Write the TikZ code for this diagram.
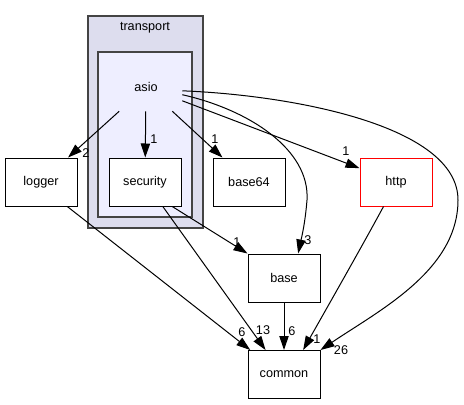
\documentclass[tikz,border=0pt]{standalone}
\usepackage{fontspec}
\setmainfont{Liberation Sans}
\usetikzlibrary{arrows.meta}
\definecolor{outerfill}{HTML}{DDDDEE}
\definecolor{innerfill}{HTML}{EEEEFF}
\definecolor{clusterline}{HTML}{444444}

\begin{document}
\begin{tikzpicture}[x=0.75pt,y=-0.75pt,font=\fontsize{9.5}{11}\selectfont]
	\tikzstyle{dir} = [draw=black, line width=0.75pt, fill=white, minimum width=54pt, minimum height=36pt, inner sep=0pt]
	\tikzstyle{cluster} = [draw=clusterline, line width=1.3pt, inner sep=0pt]
	\tikzstyle{dep} = [draw=black, line width=0.75pt, -{Triangle[length=10.5pt,width=7pt]}]
	\tikzstyle{num} = [inner sep=0pt]
	\useasboundingbox (0,0) rectangle (464,404);
		\node[cluster, fill=outerfill, minimum width=86.25pt, minimum height=159pt] (transport) at (145.5,122) {};
		\node[] (transportlbl) at (145,28) {transport};
		\node[cluster, fill=innerfill, minimum width=70.5pt, minimum height=123.75pt] (asiobox) at (145,134.5) {};
		\node[minimum width=54pt, minimum height=36pt, inner sep=0pt] (asio) at (146,87) {asio};
		\node[dir] (security) at (145,182) {security};
		\node[dir] (logger) at (41,182) {logger};
		\node[dir] (base64) at (249,182) {base64};
		\node[dir, draw=red] (http) at (396,182) {http};
		\node[dir] (base) at (284,278) {base};
		\node[dir] (common) at (284,374.5) {common};
	\draw[dep] (asio) -- (security);
	\draw[dep] (asio) -- (logger);
	\draw[dep] (asio) -- (base64);
	\draw[dep] (asio) -- (http);
	\draw[dep] (asio.-12) .. controls (250,110) and (310,150) .. (307,200) .. controls (305,225) and (301,240) .. (base.60);
	\draw[dep] (asio.-6) .. controls (290,95) and (458,125) .. (458,200) .. controls (458,270) and (380,310) .. (common.north east);
	\draw[dep] (security.-42) -- (base.north west);
	\draw[dep] (security.-54) -- (common.127);
	\draw[dep] (logger.-43) -- (common.144);
	\draw[dep] (base) -- (common);
	\draw[dep] (http.-117) .. controls (360,250) and (320,320) .. (common.52);
		\node[num] (n1) at (154,139) {1};
		\node[num] (n2) at (86,153) {2};
		\node[num] (n3) at (215,139) {1};
		\node[num] (n4) at (346,151) {1};
		\node[num] (n5) at (308,240) {3};
		\node[num] (n6) at (341,350) {26};
		\node[num] (n7) at (237,242) {1};
		\node[num] (n8) at (263,330) {13};
		\node[num] (n9) at (242,332) {6};
		\node[num] (n10) at (292,331) {6};
		\node[num] (n11) at (317,339) {1};
	\end{tikzpicture}
\end{document}
